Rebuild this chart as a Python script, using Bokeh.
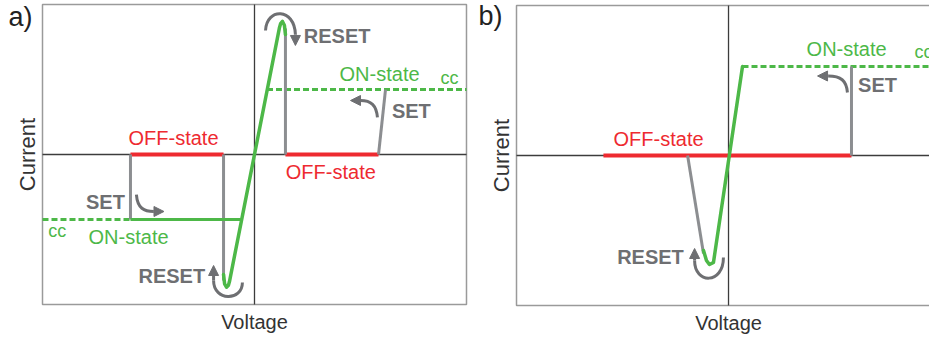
import math
from bokeh.plotting import figure
from bokeh.layouts import row
from bokeh.models import Arrow, NormalHead, Range1d
from bokeh.embed import file_html
from bokeh.resources import INLINE
from bokeh.core.properties import value

FONT = "Liberation Sans"
GREEN = "#4db848"
RED = "#ee2a30"
GRAY = "#8c8e91"
DGRAY = "#6e6f72"
AXC = "#3c3c3c"
FRAME = "#9a9a9a"

# box of each panel in data units: voltage and current both span -1..1
BOX = (-1.0, 1.0, -1.0, 1.0)

# ---------------- panel a (bipolar switching) ----------------
a_off_x = [[-0.585, -0.146], [0.146, 0.585]]
a_off_y = [[0.0, 0.0], [0.0, 0.0]]
a_gray_x = [[-0.585, -0.585], [-0.146, -0.146], [0.146, 0.146], [0.585, 0.618]]
a_gray_y = [[0.0, -0.433], [0.0, -0.84], [0.84, 0.0], [0.0, 0.433]]
a_on_solid_x = [-0.585, -0.065]
a_on_solid_y = [-0.433, -0.433]
a_on_dash_x = [[-1.0, -0.585], [0.059, 1.0]]
a_on_dash_y = [[-0.433, -0.433], [0.433, 0.433]]
a_green_x = [-0.146, -0.141, -0.132, -0.123, -0.118, 0.118, 0.123, 0.132, 0.141, 0.146]
a_green_y = [-0.80, -0.862, -0.885, -0.872, -0.847, 0.847, 0.872, 0.887, 0.862, 0.80]
# curved arrows: x0, y0, cx0, cy0, cx1, cy1, x1, y1, head tip x, head tip y
a_arrows = [
    (0.052, 0.827, 0.057, 0.98, 0.189, 0.98, 0.193, 0.80, 0.193, 0.727),
    (-0.057, -0.853, -0.057, -0.98, -0.193, -0.98, -0.193, -0.84, -0.193, -0.74),
    (-0.557, -0.267, -0.552, -0.36, -0.52, -0.38, -0.475, -0.38, -0.427, -0.38),
    (0.58, 0.247, 0.575, 0.33, 0.55, 0.36, 0.50, 0.36, 0.453, 0.36),
]
a_gray_txt = ["RESET", "SET", "SET", "RESET"]
a_gray_tx = [0.39, 0.74, -0.703, -0.39]
a_gray_ty = [0.793, 0.293, -0.32, -0.813]
a_red_txt = ["OFF-state", "OFF-state"]
a_red_tx = [-0.382, 0.36]
a_red_ty = [0.113, -0.12]
a_on_txt = ["ON-state", "ON-state"]
a_on_tx = [0.59, -0.594]
a_on_ty = [0.54, -0.553]
a_cc_tx = [0.92, -0.93]
a_cc_ty = [0.507, -0.507]

# ---------------- panel b (unipolar switching) ----------------
b_off_x = [[-0.59, 0.58]]
b_off_y = [[0.0, 0.0]]
b_gray_x = [[0.58, 0.58], [-0.193, -0.118]]
b_gray_y = [[0.0, 0.593], [0.0, -0.653]]
b_on_dash_x = [[0.066, 1.0]]
b_on_dash_y = [[0.593, 0.593]]
b_green_x = [-0.118, -0.104, -0.09, -0.071, 0.066]
b_green_y = [-0.633, -0.70, -0.727, -0.713, 0.593]
b_arrows = [
    (0.561, 0.42, 0.556, 0.50, 0.53, 0.53, 0.47, 0.53, 0.42, 0.53),
    (-0.024, -0.68, -0.024, -0.86, -0.16, -0.86, -0.16, -0.70, -0.16, -0.62),
]
b_gray_txt = ["SET", "RESET"]
b_gray_tx = [0.703, -0.368]
b_gray_ty = [0.467, -0.68]
b_red_txt = ["OFF-state"]
b_red_tx = [-0.33]
b_red_ty = [0.113]
b_on_txt = ["ON-state"]
b_on_tx = [0.557]
b_on_ty = [0.707]
b_cc_tx = [0.92]
b_cc_ty = [0.687]

# panel letters and axis titles (data units)
XLABEL_Y = -1.12
YLABEL_X = -1.071


def make_panel(width, x_start, x_end, y_start, y_end, letter, letter_x, letter_y):
    p = figure(width=width, height=338, x_range=Range1d(x_start, x_end),
               y_range=Range1d(y_start, y_end), output_backend="svg",
               toolbar_location=None, x_axis_location=None, y_axis_location=None,
               min_border=0)
    p.grid.visible = False
    p.outline_line_color = None
    p.background_fill_color = "white"
    p.border_fill_color = "white"
    p.quad(left=[BOX[0]], right=[BOX[1]], bottom=[BOX[2]], top=[BOX[3]],
           fill_color=None, line_color=FRAME, line_width=1.5)
    p.segment(x0=[BOX[0], 0.0], y0=[0.0, BOX[2]], x1=[BOX[1], 0.0], y1=[0.0, BOX[3]],
              line_color=AXC, line_width=1.3)
    p.text([letter_x], [letter_y], text=[letter], text_font=value(FONT),
           text_font_size=value("27px"), text_color="#222222",
           text_align="center", text_baseline="middle")
    p.text([0.0], [XLABEL_Y], text=["Voltage"], text_font=value(FONT),
           text_font_size=value("20px"), text_color="#333333",
           text_align="center", text_baseline="middle")
    p.text([YLABEL_X], [0.0], text=["Current"], text_font=value(FONT), angle=math.pi / 2,
           text_font_size=value("22px"), text_color="#333333",
           text_align="center", text_baseline="middle")
    return p


def draw(p, off_x, off_y, gray_x, gray_y, dash_x, dash_y, green_x, green_y, arrows,
         gtxt, gtx, gty, rtxt, rtx, rty, otxt, otx, oty, ctx, cty):
    p.multi_line(dash_x, dash_y, line_color=GREEN, line_width=3, line_dash="6 3")
    p.multi_line(off_x, off_y, line_color=RED, line_width=4)
    p.multi_line(gray_x, gray_y, line_color=GRAY, line_width=3)
    p.line(green_x, green_y, line_color=GREEN, line_width=3.5, line_join="round", line_cap="round")
    for a in arrows:
        p.bezier(x0=[a[0]], y0=[a[1]], cx0=[a[2]], cy0=[a[3]], cx1=[a[4]], cy1=[a[5]],
                 x1=[a[6]], y1=[a[7]], line_color=DGRAY, line_width=3)
        p.add_layout(Arrow(x_start=a[6], y_start=a[7], x_end=a[8], y_end=a[9],
                           line_color=DGRAY, line_width=3,
                           end=NormalHead(size=10, fill_color=DGRAY, line_color=DGRAY)))
    p.text(gtx, gty, text=gtxt, text_font=value(FONT), text_font_size=value("20px"),
           text_font_style="bold", text_color=DGRAY, text_align="center", text_baseline="middle")
    p.text(rtx, rty, text=rtxt, text_font=value(FONT), text_font_size=value("20px"),
           text_color=RED, text_align="center", text_baseline="middle")
    p.text(otx, oty, text=otxt, text_font=value(FONT), text_font_size=value("20px"),
           text_color=GREEN, text_align="center", text_baseline="middle")
    p.text(ctx, cty, text=["cc"] * len(ctx), text_font=value(FONT), text_font_size=value("18px"),
           text_color=GREEN, text_align="center", text_baseline="middle")


pa = make_panel(470, -1.1981, 1.0189, -1.2267, 1.0267, "a)", -1.104, 0.92)
draw(pa, a_off_x, a_off_y, a_gray_x, a_gray_y, a_on_dash_x, a_on_dash_y, a_green_x, a_green_y,
     a_arrows, a_gray_txt, a_gray_tx, a_gray_ty, a_red_txt, a_red_tx, a_red_ty,
     a_on_txt, a_on_tx, a_on_ty, a_cc_tx, a_cc_ty)
pa.line(a_on_solid_x, a_on_solid_y, line_color=GREEN, line_width=3)

pb = make_panel(459, -1.217, 0.948, -1.22, 1.0333, "b)", -1.123, 0.927)
draw(pb, b_off_x, b_off_y, b_gray_x, b_gray_y, b_on_dash_x, b_on_dash_y, b_green_x, b_green_y,
     b_arrows, b_gray_txt, b_gray_tx, b_gray_ty, b_red_txt, b_red_tx, b_red_ty,
     b_on_txt, b_on_tx, b_on_ty, b_cc_tx, b_cc_ty)

layout = row(pa, pb)
open("out.html", "w").write(file_html(layout, INLINE))
